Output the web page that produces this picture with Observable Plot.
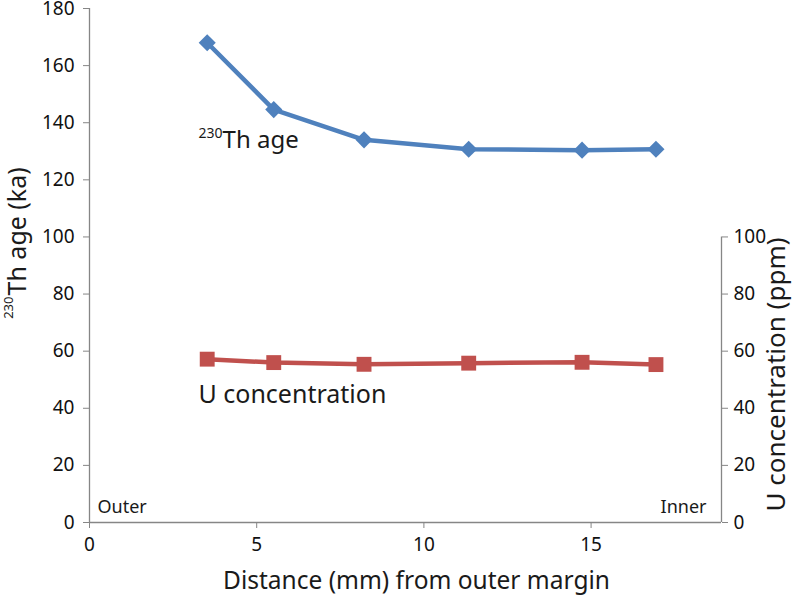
<!DOCTYPE html>
<html>
<head>
<meta charset="utf-8">
<script src="https://cdn.jsdelivr.net/npm/d3@7"></script>
<script src="https://cdn.jsdelivr.net/npm/@observablehq/plot@0.6"></script>
<style>
  html, body { margin: 0; padding: 0; background: #fff; }
  #chart svg { display: block; }
</style>
</head>
<body>
<div id="chart"></div>
<script>
// Data
const distance = [3.52, 5.51, 8.21, 11.34, 14.73, 16.94];   // mm from outer margin
const thAge    = [168.0, 144.6, 134.0, 130.7, 130.4, 130.7]; // 230Th age (ka)
const uConc    = [57.2, 56.0, 55.4, 55.8, 56.1, 55.3];       // U concentration (ppm)

const xTicks     = [0, 5, 10, 15];
const leftTicks  = [0, 20, 40, 60, 80, 100, 120, 140, 160, 180];
const rightTicks = [0, 20, 40, 60, 80, 100];
const xMax = 18.9;

const rows = distance.map((d, i) => ({distance: d, th: thAge[i], u: uConc[i]}));

const blue = "#4F81BD";
const red = "#C0504D";
const axisGrey = "#868686";
const font = "Noto Sans";

const chart = Plot.plot({
  width: 800,
  height: 595,
  marginLeft: 89,
  marginRight: 79,
  marginTop: 8,
  marginBottom: 73,
  style: {fontFamily: font, color: "#000", background: "#fff"},
  x: {domain: [0, xMax], axis: null},
  y: {domain: [0, 180], axis: null},
  marks: [
    // axes lines
    Plot.ruleX([0], {y1: 0, y2: 180, stroke: axisGrey, strokeWidth: 1.3}),
    Plot.ruleX([xMax], {y1: 0, y2: 100, stroke: axisGrey, strokeWidth: 1.3}),
    Plot.ruleY([0], {x1: 0, x2: xMax, stroke: axisGrey, strokeWidth: 1.3}),
    // axes ticks & labels
    Plot.axisX({anchor: "bottom", ticks: xTicks, tickSize: 6, tickPadding: 9, fontSize: 19,
      stroke: axisGrey, color: "#111", label: null, tickFormat: d => String(d)}),
    Plot.axisY({anchor: "left", ticks: leftTicks, tickSize: 6, tickPadding: 9, fontSize: 19,
      stroke: axisGrey, color: "#111", label: null, tickFormat: d => String(d)}),
    Plot.axisY({anchor: "right", ticks: rightTicks, tickSize: 6, tickPadding: 6, fontSize: 19,
      stroke: axisGrey, color: "#111", label: null, tickFormat: d => String(d)}),
    // series
    Plot.line(rows, {x: "distance", y: "th", stroke: blue, strokeWidth: 4.5}),
    Plot.dot(rows, {x: "distance", y: "th", symbol: "diamond2", r: 7.7, fill: blue, stroke: null}),
    Plot.line(rows, {x: "distance", y: "u", stroke: red, strokeWidth: 4.5}),
    Plot.dot(rows, {x: "distance", y: "u", symbol: "square", r: 8.4, fill: red, stroke: null}),
    // series annotations
    Plot.text([0], {x: 3.98, y: 131.2, text: ["Th age"], textAnchor: "start", lineAnchor: "bottom",
      fontSize: 24, fill: "#1a1a1a"}),
    Plot.text([0], {x: 3.98, y: 131.2, text: ["230"], textAnchor: "end", lineAnchor: "bottom",
      fontSize: 14, dy: -10, fill: "#1a1a1a"}),
    Plot.text([0], {x: 3.26, y: 41.8, text: ["U concentration"], textAnchor: "start", lineAnchor: "bottom",
      fontSize: 25, fill: "#1a1a1a"}),
    Plot.text([0], {frameAnchor: "bottom-left", text: ["Outer"], textAnchor: "start", lineAnchor: "bottom",
      dx: 8, dy: -10, fontSize: 18, fill: "#1a1a1a"}),
    Plot.text([0], {frameAnchor: "bottom-right", text: ["Inner"], textAnchor: "end", lineAnchor: "bottom",
      dx: -15, dy: -10, fontSize: 18, fill: "#1a1a1a"}),
    // axis titles
    Plot.text([0], {frameAnchor: "bottom", text: ["Distance (mm) from outer margin"], textAnchor: "middle",
      lineAnchor: "bottom", dx: 11, dy: 66, fontSize: 24.5, fill: "#1a1a1a"}),
    Plot.text([0], {frameAnchor: "top-left", text: ["Th age (ka)"], textAnchor: "start", lineAnchor: "bottom",
      rotate: -90, dx: -64, dy: 287, fontSize: 25, fill: "#1a1a1a"}),
    Plot.text([0], {frameAnchor: "top-left", text: ["230"], textAnchor: "end", lineAnchor: "bottom",
      rotate: -90, dx: -77, dy: 288, fontSize: 13, fill: "#1a1a1a"}),
    Plot.text([0], {frameAnchor: "top-right", text: ["U concentration (ppm)"], textAnchor: "middle", lineAnchor: "bottom",
      rotate: -90, dx: 63, dy: 366, fontSize: 26, fill: "#1a1a1a"})
  ]
});

document.getElementById("chart").appendChild(chart);
</script>
</body>
</html>
